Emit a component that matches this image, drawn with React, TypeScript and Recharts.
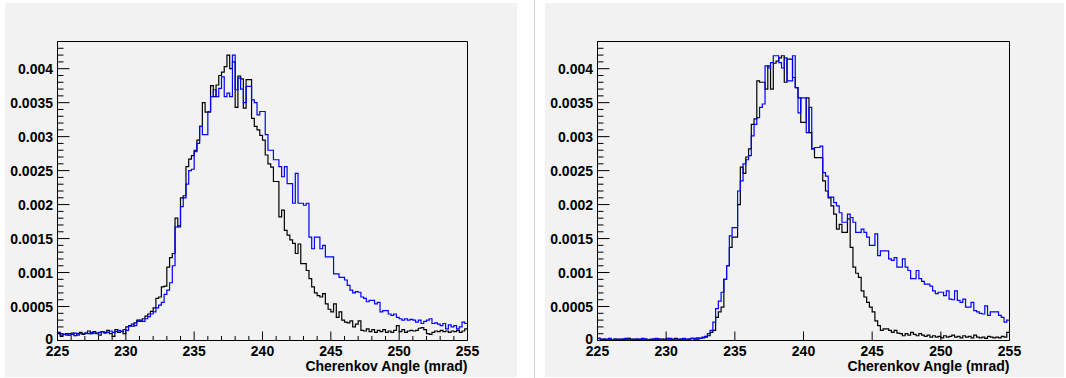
import React from 'react';
import { LineChart, Line, XAxis, YAxis, Label } from 'recharts';

// Histogram binning: 150 bins of 0.2 mrad from 225 to 255
const BIN_START = 225;
const BIN_WIDTH = 0.2;
const X_DOMAIN: [number, number] = [225, 255];
const Y_DOMAIN: [number, number] = [0, 0.0044];
// bin contents below are written in units of 1e-4
const VALUE_UNIT = 1e-4;

const X_MAJOR_TICKS = [225, 230, 235, 240, 245, 250, 255];
const X_ALL_TICKS = [225, 226, 227, 228, 229, 230, 231, 232, 233, 234, 235, 236, 237, 238, 239, 240, 241, 242, 243, 244, 245, 246, 247, 248, 249, 250, 251, 252, 253, 254, 255];
const Y_MAJOR_TICKS = [0, 0.0005, 0.001, 0.0015, 0.002, 0.0025, 0.003, 0.0035, 0.004];
const Y_TICK_LABELS = ['0', '0.0005', '0.001', '0.0015', '0.002', '0.0025', '0.003', '0.0035', '0.004'];
const Y_MINOR_STEP = 0.0001;
const X_TITLE = 'Cherenkov Angle (mrad)';

// Left panel
const leftBlack = [
  1.2, 0.6, 0.9, 1.0, 0.8, 1.1, 0.7, 1.0, 1.2, 0.9, 1.1, 1.4, 1.0, 1.3, 1.1, 0.8, 1.3, 1.2, 1.5, 1.0, 0.6, 1.6, 1.2, 1.4, 1.0,
  2.0, 2.2, 2.1, 2.6, 3.0, 2.8, 3.2, 3.6, 3.9, 4.3,
  4.8, 6.2, 6.4, 7.9, 8.0,
  10.8, 12.2, 12.8, 18.0, 16.7,
  21.0, 21.3, 25.6, 26.7, 27.2,
  28.0, 29.5, 31.5, 35.0, 33.6,
  33.6, 37.5, 35.9, 37.6, 39.0,
  39.5, 40.3, 42.0, 40.0, 41.0,
  34.3, 38.9, 38.5, 34.2, 38.4,
  38.4, 32.7, 31.5, 31.0, 30.2, 29.5, 27.3, 26.0, 25.5, 23.4,
  23.4, 18.2, 19.2, 16.2, 15.5, 14.8, 14.3, 12.8, 14.2, 11.3,
  11.3, 10.3, 9.1, 7.9, 7.0, 6.6, 6.4, 6.9, 5.4, 4.6,
  4.2, 5.4, 3.4, 4.2, 3.0, 2.7, 2.6, 2.9, 2.0, 2.4,
  2.9, 1.5, 1.4, 1.7, 1.3, 1.6, 1.2, 1.5, 1.3, 1.6,
  1.2, 1.4, 1.2, 1.5, 2.2, 1.3, 1.6, 1.2, 1.4, 1.5,
  1.4, 1.5, 1.8, 1.9, 1.6, 1.0, 0.9, 1.2, 1.4, 1.3,
  1.5, 1.3, 1.4, 1.2, 1.4, 1.3, 1.5, 1.2, 1.4, 1.7,
];

const leftBlue = [
  1.1, 0.8, 0.9, 0.8, 1.0, 0.9, 1.1, 0.8, 1.0, 1.0, 1.1, 1.0, 1.2, 1.1, 1.0, 1.2, 1.3, 1.1, 1.2, 1.4, 1.2, 1.3, 1.5, 1.3, 1.6,
  1.5, 2.1, 2.4, 2.2, 2.8, 3.0, 2.8, 3.2, 3.5, 3.9,
  4.2, 4.8, 5.2, 5.6, 6.8,
  7.4, 8.5, 11.0, 16.7, 16.9,
  19.7, 21.0, 23.0, 25.0, 25.2,
  27.8, 29.0, 31.5, 30.3, 30.3,
  33.7, 35.9, 36.9, 35.9, 37.1,
  38.8, 35.9, 36.4, 35.9, 42.0, 36.9, 38.6, 37.0, 35.0, 37.4,
  37.4, 35.4, 35.0, 33.2, 33.7, 33.7, 30.3, 28.0, 28.0, 26.6,
  26.6, 25.6, 24.1, 25.6, 23.1, 23.1, 20.2, 24.6, 20.2, 20.2,
  19.9, 20.2, 15.2, 13.5, 15.2, 15.2, 13.5, 14.0, 12.3, 12.3,
  12.3, 9.8, 9.8, 9.3, 9.3, 8.9, 8.1, 7.4, 7.0, 7.2,
  7.1, 6.4, 6.2, 5.7, 5.9, 5.9, 5.4, 5.6, 4.2, 4.4,
  4.4, 3.9, 3.7, 3.9, 3.4, 3.2, 3.0, 3.2, 3.0, 3.1,
  3.0, 2.7, 3.0, 2.5, 2.8, 3.0, 3.2, 2.5, 2.6, 2.4,
  2.2, 2.5, 1.7, 2.3, 2.0, 2.2, 1.7, 2.0, 2.7, 2.5,
];

// Right panel
const rightBlack = [
  0.3, 0.2, 0.2, 0.1, 0.2, 0.1, 0.2, 0.1, 0.2, 0.2, 0.1, 0.3, 0.1, 0.2, 0.2, 0.1, 0.2, 0.2, 0.1, 0.1,
  0.2, 0.1, 0.2, 0.2, 0.1, 0.3, 0.2, 0.1, 0.3, 0.1, 0.2, 0.2, 0.1, 0.2, 0.3, 0.2, 0.2, 0.3, 0.4, 0.5,
  0.7, 1.2, 1.5, 3.4, 4.2, 4.9, 9.0, 11.0, 13.7, 15.2,
  15.2, 20.0, 25.5, 24.6, 27.0, 28.2, 31.8, 32.6, 38.2, 38.0,
  38.0, 37.0, 40.4, 37.0, 40.8, 41.1, 41.6, 41.9, 38.0, 41.4,
  41.4, 38.7, 37.2, 35.7, 32.1, 32.1, 35.7, 30.6, 28.2, 26.9,
  26.9, 26.9, 23.5, 22.0, 21.0, 19.8, 18.6, 16.4, 17.1, 15.9,
  15.9, 17.9, 13.7, 10.8, 9.9, 9.3, 7.3, 6.4, 5.6, 4.9,
  4.2, 2.9, 2.2, 1.5, 1.7, 1.7, 1.5, 1.2, 1.5, 1.1,
  1.0, 0.7, 1.0, 0.8, 1.2, 0.9, 0.7, 1.0, 0.8, 0.6,
  0.8, 0.5, 0.7, 0.5, 0.6, 0.4, 0.7, 0.5, 0.6, 0.8,
  0.5, 0.6, 0.4, 0.7, 0.5, 0.6, 0.4, 0.8, 0.5, 0.4,
  0.5, 0.3, 0.6, 0.5, 0.4, 0.5, 0.4, 0.6, 0.5, 1.2,
];

const rightBlue = [
  0.3, 0.1, 0.2, 0.2, 0.3, 0.1, 0.2, 0.2, 0.1, 0.2, 0.3, 0.1, 0.2, 0.1, 0.2, 0.2, 0.3, 0.2, 0.1, 0.2,
  0.2, 0.3, 0.2, 0.1, 0.2, 0.2, 0.3, 0.2, 0.1, 0.2, 0.2, 0.3, 0.2, 0.2, 0.3, 0.3, 0.4, 0.3, 0.5, 0.6,
  1.0, 1.5, 2.7, 4.7, 5.8, 7.1, 9.0, 11.0, 15.4, 16.6,
  16.6, 22.0, 23.5, 26.0, 26.6, 27.2, 30.1, 31.8, 32.8, 34.3,
  34.8, 40.4, 40.1, 40.9, 41.9, 41.9, 40.9, 40.1, 41.6, 38.2,
  38.2, 41.9, 37.2, 33.5, 35.7, 35.7, 30.6, 34.3, 28.2, 28.4,
  28.4, 28.6, 24.7, 24.2, 21.1, 21.1, 20.3, 19.8, 18.8, 17.4,
  17.4, 18.6, 18.1, 17.4, 15.9, 15.9, 16.4, 15.9, 15.2, 14.0,
  14.0, 15.7, 12.5, 13.2, 13.2, 13.2, 12.0, 11.8, 12.2, 10.8,
  10.8, 12.0, 10.8, 10.3, 9.1, 9.1, 10.3, 9.1, 8.7, 8.3,
  8.3, 8.0, 7.3, 6.9, 7.1, 7.1, 6.6, 7.3, 6.1, 6.0,
  7.3, 5.9, 5.6, 6.1, 4.9, 4.9, 5.6, 4.4, 4.2, 4.0,
  3.9, 5.1, 3.7, 4.2, 4.2, 4.2, 3.7, 3.4, 2.7, 3.0,
];

const FONT = '"Liberation Sans", Arial, Helvetica, sans-serif';

function buildData(black: number[], blue: number[]) {
  const rows: { x: number; k: number; b: number }[] = [];
  for (let i = 0; i <= black.length; i++) {
    const j = Math.min(i, black.length - 1);
    rows.push({
      x: +(BIN_START + i * BIN_WIDTH).toFixed(4),
      k: black[j] * VALUE_UNIT,
      b: blue[j] * VALUE_UNIT,
    });
  }
  return rows;
}

function yTicksAll(): number[] {
  const out: number[] = [];
  for (let i = 0; i * Y_MINOR_STEP <= Y_DOMAIN[1] + 1e-12; i++) {
    out.push(+(i * Y_MINOR_STEP).toFixed(5));
  }
  return out;
}
const Y_ALL_TICKS = yTicksAll();

function XTick(props: any) {
  const { x, y, payload } = props;
  const v = payload.value;
  const major = X_MAJOR_TICKS.indexOf(v) >= 0;
  return (
    <g>
      <line x1={x} x2={x} y1={y} y2={y - (major ? 9 : 4.5)} stroke="#000" strokeWidth={1} />
      {major && (
        <text x={x} y={y + 15} textAnchor="middle" fontFamily={FONT} fontWeight="bold" fontSize={14} fill="#000">
          {String(v)}
        </text>
      )}
    </g>
  );
}

function YTick(props: any) {
  const { x, y, payload } = props;
  const v = payload.value;
  const idx = Y_MAJOR_TICKS.findIndex((t) => Math.abs(t - v) < 1e-9);
  const major = idx >= 0;
  return (
    <g>
      <line x1={x} x2={x + (major ? 12 : 6)} y1={y} y2={y} stroke="#000" strokeWidth={1} />
      {major && (
        <text x={x - 4.5} y={y + (idx === 0 ? 3 : 5)} textAnchor="end" fontFamily={FONT} fontWeight="bold" fontSize={14} fill="#000">
          {Y_TICK_LABELS[idx]}
        </text>
      )}
    </g>
  );
}

function XTitle(props: any) {
  const vb = props.viewBox || {};
  return (
    <text x={vb.x + vb.width} y={vb.y + 30} textAnchor="end" fontFamily={FONT} fontWeight="bold" fontSize={14} fill="#000">
      {X_TITLE}
    </text>
  );
}

function HistPanel(props: {
  black: number[];
  blue: number[];
  width: number;
  height: number;
  box: { top: number; right: number; bottom: number; left: number };
  xTicks: number[];
}) {
  const data = buildData(props.black, props.blue);
  const { box } = props;
  return (
    <LineChart width={props.width} height={props.height} data={data} margin={{ top: 0, right: 0, bottom: 0, left: 0 }}>
      <XAxis
        dataKey="x"
        type="number"
        domain={X_DOMAIN}
        allowDataOverflow
        ticks={props.xTicks}
        interval={0}
        height={box.bottom}
        tickSize={0}
        tickMargin={0}
        tickLine={false}
        axisLine={{ stroke: '#000', strokeWidth: 1 }}
        tick={(p: any) => <XTick {...p} />}
      >
        <Label content={(p: any) => <XTitle {...p} />} />
      </XAxis>
      <XAxis
        xAxisId="top"
        orientation="top"
        type="number"
        domain={X_DOMAIN}
        allowDataOverflow
        height={box.top}
        tick={false}
        tickLine={false}
        axisLine={{ stroke: '#000', strokeWidth: 1 }}
      />
      <YAxis
        type="number"
        domain={Y_DOMAIN}
        allowDataOverflow
        ticks={Y_ALL_TICKS}
        interval={0}
        width={box.left}
        tickSize={0}
        tickMargin={0}
        tickLine={false}
        axisLine={{ stroke: '#000', strokeWidth: 1 }}
        tick={(p: any) => <YTick {...p} />}
      />
      <YAxis
        yAxisId="right"
        orientation="right"
        type="number"
        domain={Y_DOMAIN}
        allowDataOverflow
        width={box.right}
        tick={false}
        tickLine={false}
        axisLine={{ stroke: '#000', strokeWidth: 1 }}
      />
      <Line dataKey="k" type="stepAfter" stroke="#000000" strokeWidth={1.2} dot={false} activeDot={false} isAnimationActive={false} />
      <Line dataKey="b" type="stepAfter" stroke="#0000ff" strokeWidth={1.2} dot={false} activeDot={false} isAnimationActive={false} />
    </LineChart>
  );
}

export default function App() {
  return (
    <div style={{ position: 'fixed', left: 0, top: 0, width: 1066, height: 378, background: '#ffffff', overflow: 'hidden' }}>
      <div style={{ position: 'absolute', left: 5, top: 3, width: 512, height: 374, background: '#f2f2f2' }}>
        <HistPanel
          black={leftBlack}
          blue={leftBlue}
          width={512}
          height={374}
          box={{ top: 38.5, right: 49.5, bottom: 36.5, left: 52.5 }}
          xTicks={X_ALL_TICKS}
        />
      </div>
      <div style={{ position: 'absolute', left: 534, top: 0, width: 1, height: 378, background: '#d4d4d4' }} />
      <div style={{ position: 'absolute', left: 545, top: 3, width: 519, height: 374, background: '#f2f2f2' }}>
        <HistPanel
          black={rightBlack}
          blue={rightBlue}
          width={519}
          height={374}
          box={{ top: 38.5, right: 54.5, bottom: 36.5, left: 52.5 }}
          xTicks={X_MAJOR_TICKS}
        />
      </div>
    </div>
  );
}
